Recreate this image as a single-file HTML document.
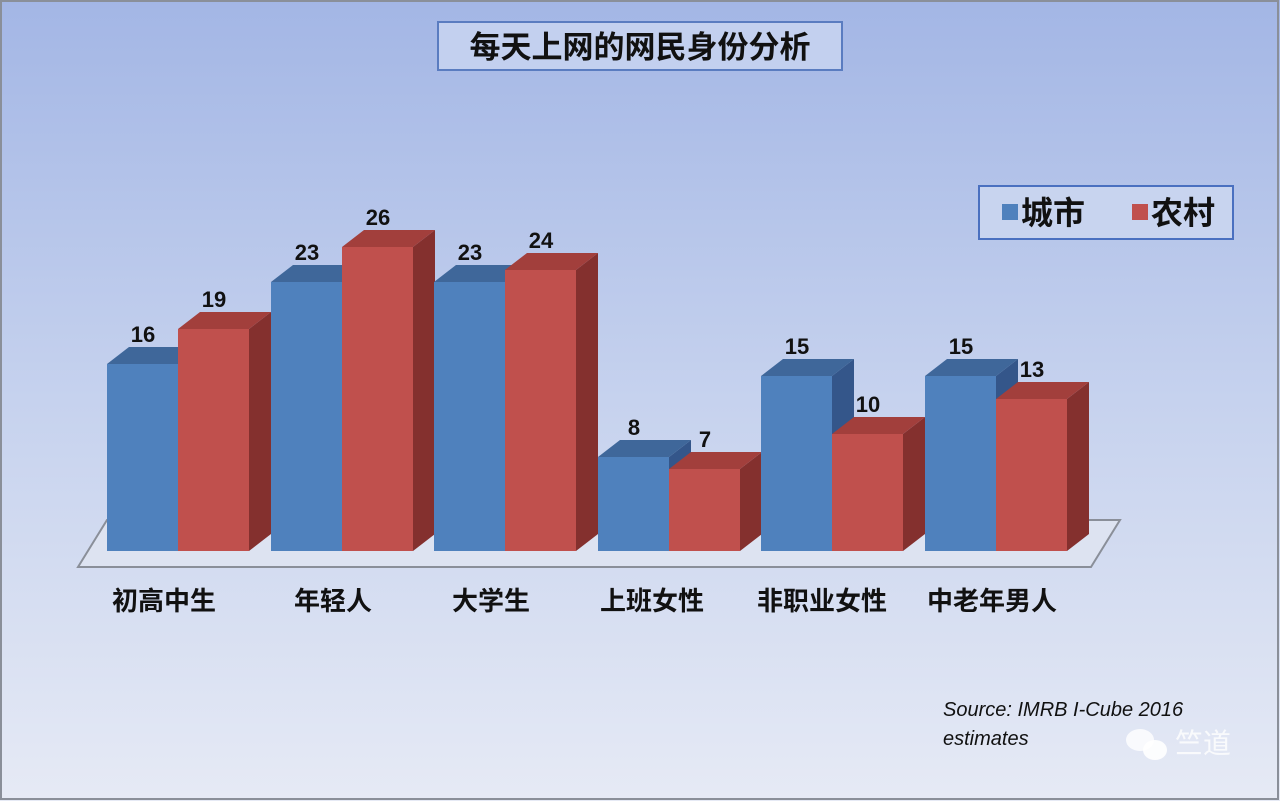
<!DOCTYPE html>
<html><head><meta charset="utf-8"><style>
body{margin:0;width:1280px;height:801px;overflow:hidden}
svg{display:block}
text{font-family:"Liberation Sans","Noto Sans CJK SC",sans-serif}
</style></head><body>
<svg width="1280" height="801" viewBox="0 0 1280 801">
<defs><linearGradient id="bg" x1="0" y1="0" x2="0" y2="1">
<stop offset="0" stop-color="#a3b6e5"/><stop offset="0.5" stop-color="#c6d2ee"/><stop offset="1" stop-color="#e6eaf5"/></linearGradient></defs>
<rect x="0" y="0" width="1280" height="801" fill="url(#bg)"/>
<rect x="1" y="1" width="1277" height="798" fill="none" stroke="#8a8f99" stroke-width="2"/>
<rect x="438" y="22" width="404" height="48" fill="#c3d0ef" stroke="#5a7cc0" stroke-width="2"/>
<text x="640" y="58" font-size="31" font-weight="bold" text-anchor="middle" fill="#111">每天上网的网民身份分析</text>
<rect x="979" y="186" width="254" height="53" fill="#c8d4ef" stroke="#4a70c0" stroke-width="2"/>
<rect x="1002" y="204" width="16" height="16" fill="#4f81bd"/>
<text x="1021" y="224" font-size="32" font-weight="bold" fill="#111">城市</text>
<rect x="1132" y="204" width="16" height="16" fill="#c0504d"/>
<text x="1151" y="224" font-size="32" font-weight="bold" fill="#111">农村</text>
<polygon points="78,567 107,520 1120,520 1091,567" fill="#dde3f1" stroke="#8a8f99" stroke-width="2"/>
<g font-size="22" font-weight="bold" fill="#111" text-anchor="middle">
<!-- group 1 -->
<polygon points="178,364 200,347 200,534 178,551" fill="#34568a"/><polygon points="107,364 129,347 200,347 178,364" fill="#3f679a"/><rect x="107" y="364" width="71" height="187" fill="#4f81bd"/><text x="143" y="342">16</text>
<polygon points="249,329 271,312 271,534 249,551" fill="#84302e"/><polygon points="178,329 200,312 271,312 249,329" fill="#a23f3c"/><rect x="178" y="329" width="71" height="222" fill="#c0504d"/><text x="214" y="307">19</text>
<!-- group 2 -->
<polygon points="342,282 364,265 364,534 342,551" fill="#34568a"/><polygon points="271,282 293,265 364,265 342,282" fill="#3f679a"/><rect x="271" y="282" width="71" height="269" fill="#4f81bd"/><text x="307" y="260">23</text>
<polygon points="413,247 435,230 435,534 413,551" fill="#84302e"/><polygon points="342,247 364,230 435,230 413,247" fill="#a23f3c"/><rect x="342" y="247" width="71" height="304" fill="#c0504d"/><text x="378" y="225">26</text>
<!-- group 3 -->
<polygon points="505,282 527,265 527,534 505,551" fill="#34568a"/><polygon points="434,282 456,265 527,265 505,282" fill="#3f679a"/><rect x="434" y="282" width="71" height="269" fill="#4f81bd"/><text x="470" y="260">23</text>
<polygon points="576,270 598,253 598,534 576,551" fill="#84302e"/><polygon points="505,270 527,253 598,253 576,270" fill="#a23f3c"/><rect x="505" y="270" width="71" height="281" fill="#c0504d"/><text x="541" y="248">24</text>
<!-- group 4 -->
<polygon points="669,457 691,440 691,534 669,551" fill="#34568a"/><polygon points="598,457 620,440 691,440 669,457" fill="#3f679a"/><rect x="598" y="457" width="71" height="94" fill="#4f81bd"/><text x="634" y="435">8</text>
<polygon points="740,469 762,452 762,534 740,551" fill="#84302e"/><polygon points="669,469 691,452 762,452 740,469" fill="#a23f3c"/><rect x="669" y="469" width="71" height="82" fill="#c0504d"/><text x="705" y="447">7</text>
<!-- group 5 -->
<polygon points="832,376 854,359 854,534 832,551" fill="#34568a"/><polygon points="761,376 783,359 854,359 832,376" fill="#3f679a"/><rect x="761" y="376" width="71" height="175" fill="#4f81bd"/><text x="797" y="354">15</text>
<polygon points="903,434 925,417 925,534 903,551" fill="#84302e"/><polygon points="832,434 854,417 925,417 903,434" fill="#a23f3c"/><rect x="832" y="434" width="71" height="117" fill="#c0504d"/><text x="868" y="412">10</text>
<!-- group 6 -->
<polygon points="996,376 1018,359 1018,534 996,551" fill="#34568a"/><polygon points="925,376 947,359 1018,359 996,376" fill="#3f679a"/><rect x="925" y="376" width="71" height="175" fill="#4f81bd"/><text x="961" y="354">15</text>
<polygon points="1067,399 1089,382 1089,534 1067,551" fill="#84302e"/><polygon points="996,399 1018,382 1089,382 1067,399" fill="#a23f3c"/><rect x="996" y="399" width="71" height="152" fill="#c0504d"/><text x="1032" y="377">13</text>
</g>
<g font-size="26" font-weight="bold" fill="#111" text-anchor="middle">
<text x="164" y="610">初高中生</text><text x="333" y="610">年轻人</text><text x="491" y="610">大学生</text>
<text x="652" y="610">上班女性</text><text x="822" y="610">非职业女性</text><text x="992" y="610">中老年男人</text>
</g>
<text x="943" y="716" font-size="20" font-style="italic" fill="#111">Source: IMRB I-Cube 2016</text>
<text x="943" y="745" font-size="20" font-style="italic" fill="#111">estimates</text>
<text x="1175" y="753" font-size="28" fill="#fff" opacity="0.8">竺道</text>
<ellipse cx="1140" cy="740" rx="14" ry="11" fill="#fff" opacity="0.8"/>
<ellipse cx="1155" cy="750" rx="12" ry="10" fill="#fff" opacity="0.9"/>
</svg></body></html>
